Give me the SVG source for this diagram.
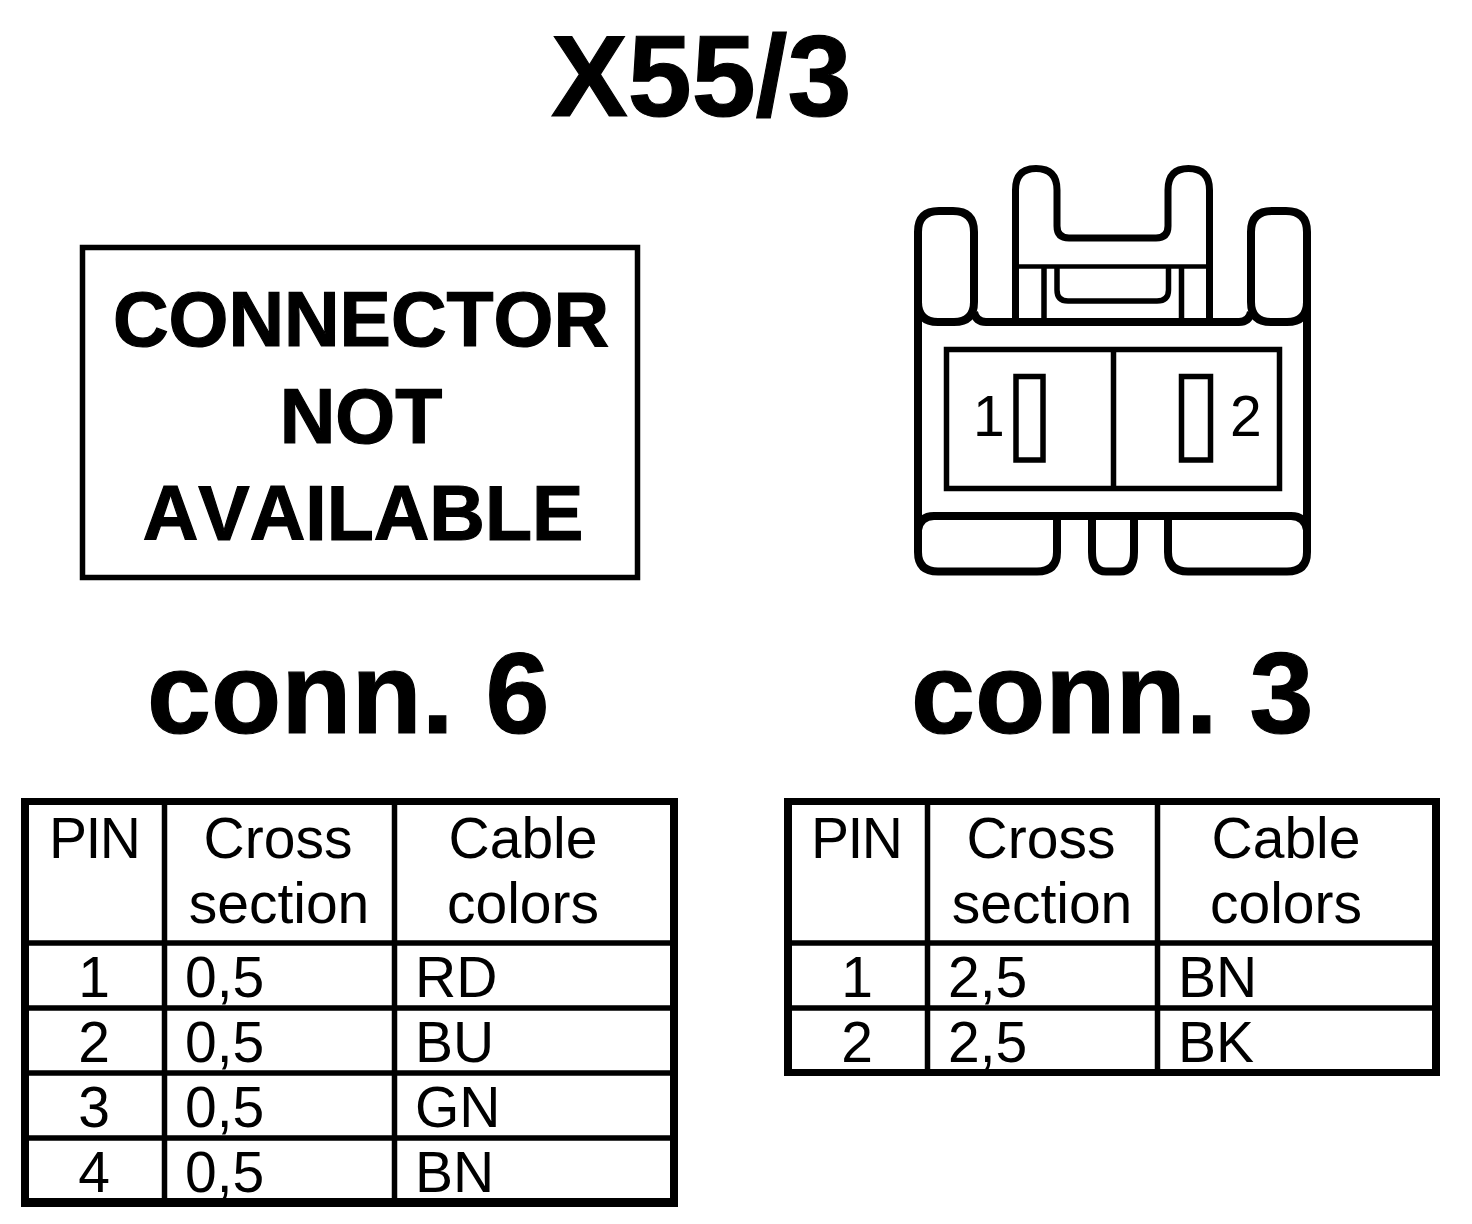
<svg xmlns="http://www.w3.org/2000/svg" width="1472" height="1224" viewBox="0 0 1472 1224">
<style>
text{font-family:"Liberation Sans",Arial,sans-serif;fill:#000;font-kerning:none}
.b{font-weight:bold;stroke:#000;stroke-width:1.2}
.big{font-size:115px}
.box{font-size:77px;text-anchor:middle}
.t{font-size:57px}
.m{text-anchor:middle}
.s9{fill:none;stroke:#000;stroke-width:9}
.s8{fill:none;stroke:#000;stroke-width:8}
.s7{fill:none;stroke:#000;stroke-width:7}
.s5{fill:none;stroke:#000;stroke-width:5.5}
.s4{fill:none;stroke:#000;stroke-width:4.5}
</style>
<rect width="1472" height="1224" fill="#fff"/>
<g id="title"><text class="b big" x="551" y="116">X55/3</text></g>
<g id="conn6-box">
<rect class="s5" x="82.500" y="247.500" width="555" height="330"/>
<text class="b box" x="361" y="346">CONNECTOR</text>
<text class="b box" x="361" y="443">NOT</text>
<text class="b box" x="363" y="540">AVAILABLE</text>
</g>
<g id="conn3-drawing">
<path class="s8" d="M918 322V232Q918 211 939 211H953Q974 211 974 232V302Q974 322 954 322H938Q918 322 918 302"/>
<path class="s8" d="M1307 322V232Q1307 211 1286 211H1272Q1251 211 1251 232V302Q1251 322 1271 322H1287Q1307 322 1307 302"/>
<path class="s8" d="M974 312Q976 322 986 322H1239Q1249 322 1251 312"/>
<path class="s7" d="M1015.500 320V190Q1015.500 168.500 1036 168.500Q1057 168.500 1057 190V226Q1057 238 1069 238H1156Q1168 238 1168 226V190Q1168 168.500 1188.500 168.500Q1209.500 168.500 1209.500 190V320"/>
<path class="s4" d="M1018 266.500H1207"/>
<path class="s5" d="M1044 268V320M1181.500 268V320M1057 268V290Q1057 301 1068 301H1157Q1168.500 301 1168.500 290V268"/>
<path class="s5" d="M946.500 349.500H1279.500V488.500H946.500ZM1113.500 349.500V488.500"/>
<rect class="s5" x="1016" y="376.500" width="27" height="83.500"/>
<rect class="s5" x="1181.500" y="376.500" width="29" height="83.500"/>
<text class="t" x="973" y="435.500">1</text>
<text class="t" x="1230" y="435.500">2</text>
<path class="s8" d="M918 322V552Q918 571.500 938 571.500H1037Q1057 571.500 1057 552V516M1307 322V552Q1307 571.500 1287 571.500H1188Q1168 571.500 1168 552V516"/>
<path class="s8" d="M918 530Q920 516 934 516H1291Q1305 516 1307 530"/>
<path class="s8" d="M1092 516V552Q1092 571.500 1106 571.500H1120Q1134 571.500 1134 552V516"/>
</g>
<g id="conn-labels">
<text class="b big" x="147" y="733">conn. 6</text>
<text class="b big" x="911" y="733">conn. 3</text>
</g>
<g id="table-conn6">
<path class="s7" d="M25 801.500H674"/>
<path class="s8" d="M25 798V1207M674 798V1207"/>
<path class="s9" d="M21 1202.500H678"/>
<path class="s5" d="M25 943H674M25 1008H674M25 1073H674M25 1138H674M164.500 801.500V1203M394.500 801.500V1203"/>
<text class="t" x="49" y="857.500" textLength="92">PIN</text>
<text class="t m" x="278" y="857.500">Cross</text>
<text class="t m" x="279" y="922.500">section</text>
<text class="t m" x="523" y="857.500">Cable</text>
<text class="t m" x="523" y="922.500">colors</text>
<text class="t m" x="94" y="996.500">1</text><text class="t" x="185" y="996.500">0,5</text><text class="t" x="415" y="996.500">RD</text>
<text class="t m" x="94" y="1061.500">2</text><text class="t" x="185" y="1061.500">0,5</text><text class="t" x="415" y="1061.500">BU</text>
<text class="t m" x="94" y="1126.500">3</text><text class="t" x="185" y="1126.500">0,5</text><text class="t" x="415" y="1126.500">GN</text>
<text class="t m" x="94" y="1191.500">4</text><text class="t" x="185" y="1191.500">0,5</text><text class="t" x="415" y="1191.500">BN</text>
</g>
<g id="table-conn3">
<path class="s7" d="M788 801.500H1436"/>
<path class="s8" d="M788 798V1076M1436 798V1076"/>
<path class="s7" d="M784 1072.500H1440"/>
<path class="s5" d="M788 943H1436M788 1008H1436M927.500 801.500V1073M1157.500 801.500V1073"/>
<text class="t" x="811" y="857.500" textLength="92">PIN</text>
<text class="t m" x="1041" y="857.500">Cross</text>
<text class="t m" x="1042" y="922.500">section</text>
<text class="t m" x="1286" y="857.500">Cable</text>
<text class="t m" x="1286" y="922.500">colors</text>
<text class="t m" x="857" y="996.500">1</text><text class="t" x="948" y="996.500">2,5</text><text class="t" x="1178" y="996.500">BN</text>
<text class="t m" x="857" y="1061.500">2</text><text class="t" x="948" y="1061.500">2,5</text><text class="t" x="1178" y="1061.500">BK</text>
</g>
</svg>
